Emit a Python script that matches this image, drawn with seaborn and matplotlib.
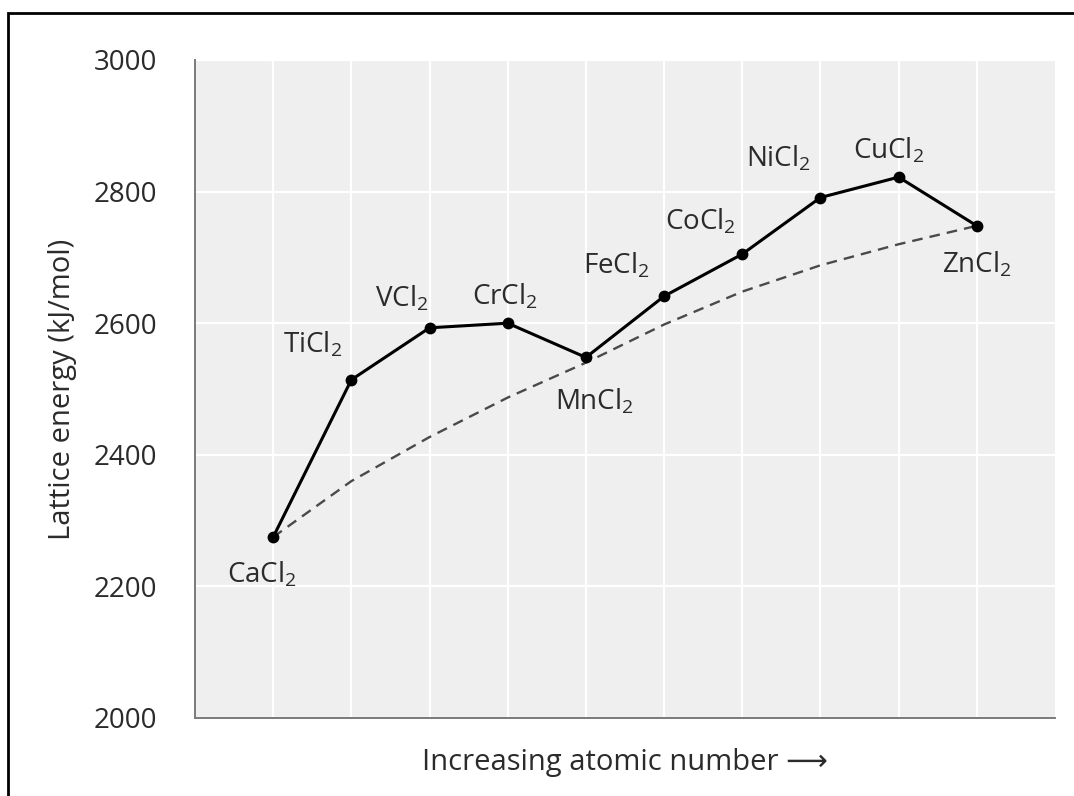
import matplotlib
matplotlib.use("Agg")
import matplotlib.pyplot as plt
from matplotlib.patches import Rectangle
import seaborn as sns
import pandas as pd

# Data
compounds = ["CaCl$_2$", "TiCl$_2$", "VCl$_2$", "CrCl$_2$", "MnCl$_2$",
             "FeCl$_2$", "CoCl$_2$", "NiCl$_2$", "CuCl$_2$", "ZnCl$_2$"]
position = [1, 2, 3, 4, 5, 6, 7, 8, 9, 10]
lattice_energy = [2275, 2514, 2593, 2600, 2548, 2641, 2705, 2791, 2822, 2748]
trend_energy = [2275, 2360, 2427, 2487, 2540, 2598, 2648, 2688, 2720, 2748]
y_ticks = [2000, 2200, 2400, 2600, 2800, 3000]

# label offsets in points (dx, dy) from each point
label_offsets = [(-8, -27), (-28, 25), (-20, 21), (-2, 19), (6, -32),
                 (-34, 22), (-30, 23), (-30, 28), (-7, 19), (0, -28)]

df = pd.DataFrame({"pos": position, "energy": lattice_energy, "trend": trend_energy})

sns.set_style("white")
plt.rcParams["font.family"] = ["Open Sans", "DejaVu Sans"]
plt.rcParams["mathtext.fontset"] = "custom"
plt.rcParams["mathtext.rm"] = "Open Sans"
plt.rcParams["mathtext.it"] = "Open Sans"
plt.rcParams["mathtext.bf"] = "Open Sans"

text_color = "#2b2b2b"
axis_color = "#7a7a7a"

fig = plt.figure(figsize=(10.74, 7.96), dpi=100)
ax = fig.add_axes([195 / 1074, 1 - 718 / 796, (1055 - 195) / 1074, (718 - 60) / 796])
ax.set_facecolor("#efefef")

# dashed trend curve
sns.lineplot(data=df, x="pos", y="trend", ax=ax, color="#4a4a4a",
             linewidth=1.7, linestyle=(0, (4.5, 3)), zorder=3)
# measured values
sns.lineplot(data=df, x="pos", y="energy", ax=ax, color="black",
             linewidth=2.2, marker="o", markersize=8.5, markeredgewidth=0, zorder=4)

for i, name in enumerate(compounds):
    ax.annotate(name, (position[i], lattice_energy[i]), xytext=label_offsets[i],
                textcoords="offset points", ha="center", va="center",
                fontsize=20, color=text_color)

ax.set_xlim(0, 11)
ax.set_ylim(2000, 3000)
ax.set_xticks(position)
ax.set_xticklabels([])
ax.set_yticks(y_ticks)
ax.grid(True, color="white", linewidth=1.6)
ax.set_axisbelow(True)

for side in ["top", "right"]:
    ax.spines[side].set_visible(False)
for side in ["left", "bottom"]:
    ax.spines[side].set_color(axis_color)
    ax.spines[side].set_linewidth(1.4)

ax.tick_params(axis="x", length=0)
ax.tick_params(axis="y", length=16, width=1.4, color=axis_color, pad=11,
               labelsize=20, labelcolor=text_color)

ax.set_xlabel("Increasing atomic number \u27f6", fontsize=21, color=text_color, labelpad=18)
ax.set_ylabel("Lattice energy (kJ/mol)", fontsize=21, color=text_color, labelpad=12)

# outer frame
fig.patches.append(Rectangle((8 / 1074, -0.1), 1.2, 1.1 - 13 / 796,
                             transform=fig.transFigure, fill=False,
                             edgecolor="black", linewidth=2))

fig.savefig("out.png", dpi=100)
